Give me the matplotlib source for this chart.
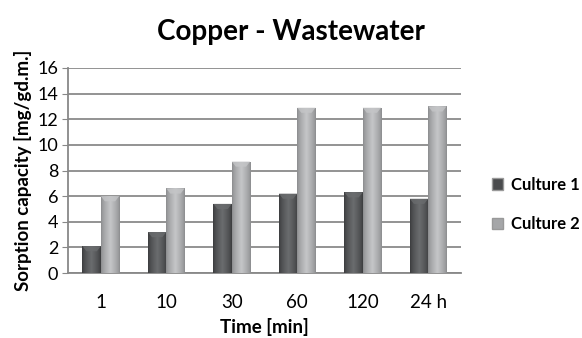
import matplotlib.pyplot as plt
import numpy as np
from matplotlib.patches import Patch

plt.rcParams['font.family'] = ['Lato', 'DejaVu Sans']

times = ['1', '10', '30', '60', '120', '24 h']
culture1 = [2.1, 3.2, 5.4, 6.2, 6.3, 5.8]
culture2 = [6.0, 6.6, 8.7, 12.9, 12.9, 13.0]

fig = plt.figure(figsize=(5.82, 3.38), dpi=100)
ax = fig.add_axes([0.117, 0.192, 0.675, 0.607])

x = np.arange(len(times))
w = 0.28


def shaded_bars(xs, vals, dark, light, label):
    bars = ax.bar(xs, vals, w, color=dark, edgecolor='none', label=label, zorder=2)
    grad = np.concatenate([np.linspace(0, 1, 40), np.linspace(1, 0, 40)]) ** 0.7
    grad = grad.reshape(1, -1)
    cmap = plt.matplotlib.colors.LinearSegmentedColormap.from_list('s', [dark, light])
    for b in bars:
        x0, y0 = b.get_x(), b.get_y()
        im = ax.imshow(grad, cmap=cmap, aspect='auto', zorder=3,
                       extent=[x0, x0 + b.get_width(), y0, y0 + b.get_height()])
        im.set_clip_path(b)
        # bevelled top
        h = b.get_height()
        ax.fill([x0, x0 + w, x0 + w * 0.78, x0 + w * 0.22],
                [h, h, h - 0.4, h - 0.4], color=light, alpha=0.8, zorder=4, lw=0)
    return bars


shaded_bars(x - w / 2, culture1, '#3a3b3d', '#6a6c6e', 'Culture 1')
shaded_bars(x + w / 2, culture2, '#8a8b8d', '#c4c5c7', 'Culture 2')

ax.set_xlim(-0.5, len(times) - 0.5)
ax.set_ylim(0, 16)
ax.set_yticks(range(0, 17, 2))
ax.set_xticks(x)
ax.set_xticklabels(times)
ax.tick_params(axis='y', length=4, color='#888888', labelsize=13, pad=3)
ax.tick_params(axis='x', length=0, labelsize=13.5, pad=15)
ax.yaxis.grid(True, color='#8a8a8a', lw=1.3, zorder=0)
ax.set_axisbelow(True)
for s in ['top', 'right']:
    ax.spines[s].set_visible(False)
ax.spines['left'].set_color('#888888')
ax.spines['bottom'].set_color('#888888')
ax.spines['left'].set_linewidth(1.3)
ax.spines['bottom'].set_linewidth(1.3)

ax.set_ylabel('Sorption capacity [mg/gd.m.]', fontsize=13.5, fontweight='bold', labelpad=4)
ax.set_xlabel('Time [min]', fontsize=13.5, fontweight='bold', labelpad=5)
fig.text(0.50, 0.905, 'Copper - Wastewater', ha='center', va='center',
         fontsize=20, fontweight='bold')

handles = [Patch(facecolor='#4a4b4d', edgecolor='#999999'),
           Patch(facecolor='#a5a6a8', edgecolor='#999999')]
fig.legend(handles, ['Culture 1', 'Culture 2'], loc='center left',
           bbox_to_anchor=(0.82, 0.395), frameon=False, handlelength=0.65,
           handleheight=0.65, handletextpad=0.5, labelspacing=1.4,
           prop={'weight': 'bold', 'size': 12})

fig.savefig('out.png', dpi=100)
